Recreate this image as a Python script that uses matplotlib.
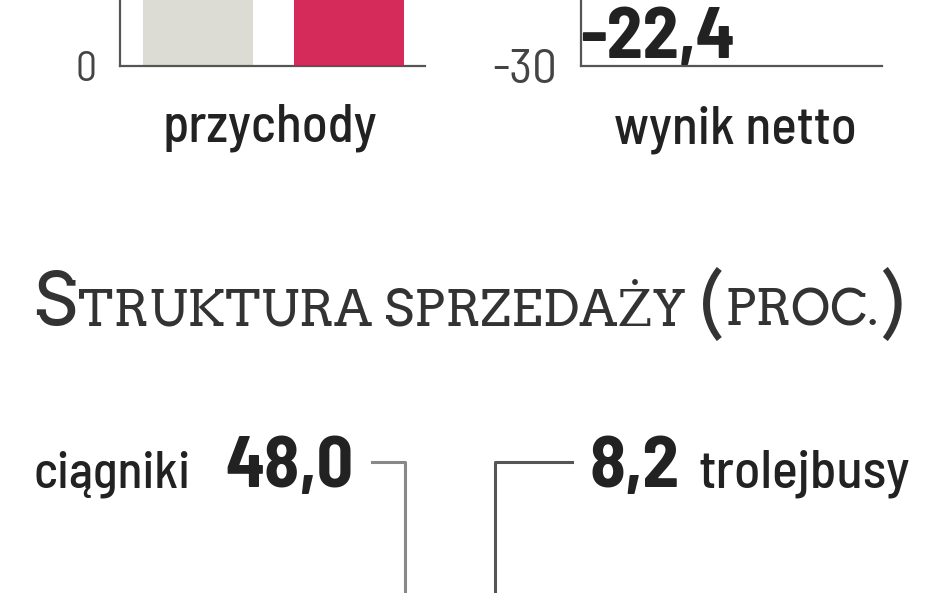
import matplotlib
matplotlib.use("Agg")
import matplotlib.pyplot as plt
from matplotlib.lines import Line2D

# data
periods = ["poprzedni", "bieżący"]
revenue = [181.3, 136.5]
net_result = [-22.4, -9.7]
share_labels = ["ciągniki", "trolejbusy"]
share_values = [48.0, 8.2]

bar_colors = ["#dcdcd4", "#d42b5b"]
axis_color = "#555555"
text_color = "#222222"
sans = ["Barlow Semi Condensed", "DejaVu Sans"]
serif = ["Arvo", "DejaVu Serif"]

W, H = 948, 593
fig = plt.figure(figsize=(W / 100, H / 100), dpi=100)
fig.patch.set_facecolor("white")
renderer = fig.canvas.get_renderer()


def px(x, y):
    return x / W, 1 - y / H


def fmt(v):
    return f"{v:.1f}".replace(".", ",")


def size_for(s, width, **kw):
    t = fig.text(0, 0, s, fontsize=40, **kw)
    w = t.get_window_extent(renderer).width
    t.remove()
    return 40 * width / w


def fitted(x, y, s, width, ha="left", **kw):
    kw.setdefault("family", sans)
    kw.setdefault("color", text_color)
    kw.setdefault("fontweight", "medium")
    size = size_for(s, width, family=kw["family"], fontweight=kw["fontweight"])
    return fig.text(*px(x, y), s, fontsize=size, ha=ha, va="baseline", **kw)


def bar_axes(left, right, ylim):
    x0, y0 = px(left, 66)
    ax = fig.add_axes([x0, y0, (right - left) / W, 304 / H])
    ax.set_ylim(*ylim)
    ax.set_xlim(-0.517, 1.503)
    for s in ["top", "right"]:
        ax.spines[s].set_visible(False)
    for s in ["left", "bottom"]:
        ax.spines[s].set_color(axis_color)
        ax.spines[s].set_linewidth(1.6)
    ax.set_xticks([])
    ax.tick_params(axis="y", length=0, pad=17, labelcolor="#444444")
    return ax


# revenue
ax1 = bar_axes(120, 425, (0, 80))
ax1.bar(range(len(periods)), revenue, width=0.73, color=bar_colors)
ax1.set_yticks([0])
ax1.set_yticklabels(["0"], family=sans, fontsize=size_for("0", 21, family=sans))
fitted(270, 142, "przychody", 215, ha="center")

# net result
ax2 = bar_axes(581, 882, (-30, 5))
ax2.bar(range(len(periods)), net_result, width=0.73, color=bar_colors)
ax2.set_yticks([-30])
ax2.set_yticklabels(["-30"], family=sans, fontsize=size_for("-30", 65, family=sans))
for lab in ax2.get_yticklabels():
    lab.set_verticalalignment("center_baseline")
ax2.annotate(fmt(net_result[0]), xy=(0, net_result[0]), xytext=(0, -5),
             textcoords="offset points", ha="center", va="top",
             fontsize=size_for(fmt(net_result[0]), 155, family=sans, fontweight="bold"),
             fontweight="bold", family=sans, color=text_color, annotation_clip=False)
fitted(735, 143, "wynik netto", 243, ha="center")

# title in small caps
pieces = [("S", 1.45, 0), ("TRUKTURA", 1, 0), ("SPRZEDAŻY", 1, 0.3),
          ("(", 1.45, 0.3), ("PROC.", 1, 0), (")", 1.45, 0)]


def draw_title(base):
    arts = []
    x = 33
    for txt, rel, gap in pieces:
        x += gap * base
        t = fig.text(*px(x, 325), txt, fontsize=base * rel, family=serif,
                     color="#333333", va="baseline", ha="left")
        arts.append(t)
        x += t.get_window_extent(renderer).width + 0.04 * base
    return arts, x - 33


arts, total = draw_title(30)
for a in arts:
    a.remove()
draw_title(30 * 874 / total)

# share labels
fitted(33, 487, share_labels[0], 157)
fitted(225, 487, fmt(share_values[0]), 128, fontweight="bold")
fitted(590, 487, fmt(share_values[1]), 90, fontweight="bold")
fitted(698, 487, share_labels[1], 212)

# leader lines
for xs, ys, c in [([372, 405, 405], [462, 462, 600], "#888888"),
                  ([572, 495, 495], [462, 462, 600], "#555555")]:
    fig.add_artist(Line2D([v / W for v in xs], [1 - v / H for v in ys],
                          color=c, lw=2.2, transform=fig.transFigure))

fig.savefig("out.png", dpi=100, facecolor="white")
